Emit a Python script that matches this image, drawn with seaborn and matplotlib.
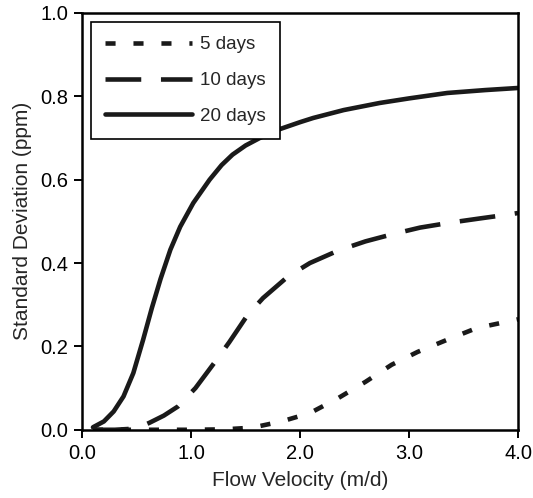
import numpy as np
import pandas as pd
import matplotlib
matplotlib.use("Agg")
import matplotlib.pyplot as plt
import seaborn as sns

sns.set_style("ticks")
plt.rcParams['font.family'] = ['Liberation Sans', 'DejaVu Sans']

x20 = [0.1, 0.2, 0.29, 0.38, 0.47, 0.56, 0.64, 0.72, 0.81, 0.9, 1.02, 1.17, 1.28, 1.38, 1.5, 1.63, 1.8, 2.0, 2.12, 2.4, 2.73, 3.0, 3.35, 3.7, 4.0]
y20 = [0.006, 0.02, 0.044, 0.08, 0.136, 0.216, 0.292, 0.362, 0.432, 0.487, 0.544, 0.60, 0.635, 0.66, 0.682, 0.70, 0.72, 0.738, 0.748, 0.767, 0.784, 0.795, 0.808, 0.815, 0.82]
x10 = [0.1, 0.3, 0.5, 0.62, 0.75, 0.88, 1.04, 1.22, 1.35, 1.52, 1.66, 1.89, 2.09, 2.35, 2.6, 2.86, 3.1, 3.38, 3.65, 3.9, 4.0]
y10 = [0.0, 0.0, 0.003, 0.017, 0.034, 0.056, 0.10, 0.163, 0.21, 0.276, 0.316, 0.368, 0.40, 0.43, 0.452, 0.47, 0.485, 0.497, 0.507, 0.516, 0.52]
x5 = [0.1, 0.5, 1.0, 1.3, 1.56, 1.83, 2.09, 2.35, 2.6, 2.84, 3.08, 3.35, 3.62, 3.91, 4.0]
y5 = [0.0, 0.0, 0.0, 0.001, 0.005, 0.02, 0.04, 0.076, 0.115, 0.156, 0.187, 0.216, 0.244, 0.26, 0.265]
labels = ["5 days", "10 days", "20 days"]

df = pd.concat([
    pd.DataFrame({"x": x5, "y": y5, "s": labels[0]}),
    pd.DataFrame({"x": x10, "y": y10, "s": labels[1]}),
    pd.DataFrame({"x": x20, "y": y20, "s": labels[2]}),
])

fig = plt.figure(figsize=(5.33, 4.98), dpi=100)
ax = fig.add_axes([0.154, 0.137, 0.818, 0.837])
sns.lineplot(data=df, x="x", y="y", style="s", style_order=labels,
             dashes={labels[0]: (2.2, 3.9), labels[1]: (7.8, 4.3), labels[2]: ""},
             color="#1a1a1a", linewidth=3.3, ax=ax, sort=False)
for ln in ax.get_lines():
    ln.set_solid_joinstyle("round")
    ln.set_dash_joinstyle("round")

ax.set_xlim(0, 4.0)
ax.set_ylim(0, 1.0)
ax.set_xticks([0, 1, 2, 3, 4])
ax.set_xticklabels(["0.0", "1.0", "2.0", "3.0", "4.0"])
ax.set_yticks([0, 0.2, 0.4, 0.6, 0.8, 1.0])
ax.set_yticklabels(["0.0", "0.2", "0.4", "0.6", "0.8", "1.0"])
ax.set_xlabel("Flow Velocity (m/d)", fontsize=15, labelpad=6)
ax.set_ylabel("Standard Deviation (ppm)", fontsize=15, labelpad=6)
ax.tick_params(direction="out", length=6, width=1.4, labelsize=14.5, colors="black", pad=4)
for sp in ax.spines.values():
    sp.set_linewidth(1.8)
    sp.set_color("black")

leg = ax.legend(title=None, loc="upper left", bbox_to_anchor=(0.021, 0.978),
                borderaxespad=0, fontsize=13.5, handlelength=4.6, handletextpad=0.45,
                labelspacing=1.0, borderpad=0.75, fancybox=False, framealpha=1,
                edgecolor="black")
leg.get_frame().set_linewidth(1.2)

fig.savefig("out.png", dpi=100)
